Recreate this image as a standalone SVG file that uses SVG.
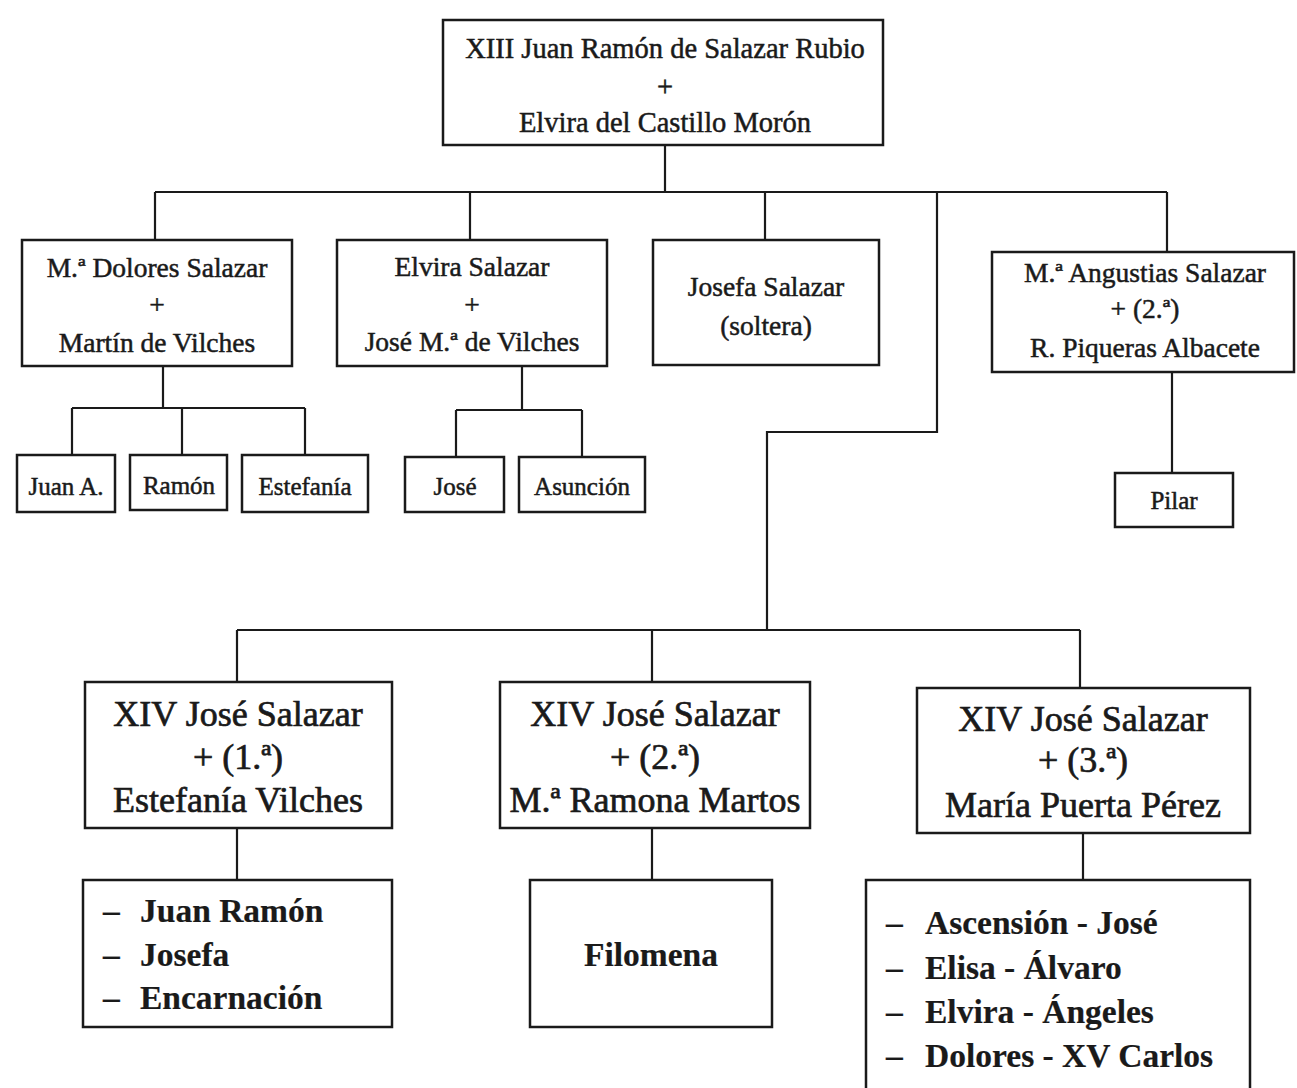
<svg xmlns="http://www.w3.org/2000/svg" width="1297" height="1088" viewBox="0 0 1297 1088">
<style>
.box{fill:#fff;stroke:#1a1a1a;stroke-width:2.5}
.ln{fill:none;stroke:#1a1a1a;stroke-width:2.2}
text{font-family:"Liberation Serif","Times New Roman",serif;fill:#1a1a1a;stroke:#1a1a1a;stroke-width:0.5}
.t1{font-size:28.5px;text-anchor:middle}
.t2{font-size:27.5px;text-anchor:middle}
.t3{font-size:25px;text-anchor:middle}
.t4{font-size:36px;text-anchor:middle;stroke-width:0.7}
.t5{font-size:33.5px;font-weight:bold;stroke-width:0.2}
.c{text-anchor:middle}
</style>
<rect width="1297" height="1088" fill="#fff"/>
<g id="connectors">
<path class="ln" d="M665 145V192M155 192H1167M155 192V240M470 192V240M765 192V240M937 192V432H767V630M1167 192V252"/>
<path class="ln" d="M163 366V408M72 408H305M72 408V455M182 408V455M305 408V455"/>
<path class="ln" d="M522 366V410M456 410H582M456 410V457M582 410V457"/>
<path class="ln" d="M1172 372V473"/>
<path class="ln" d="M237 630H1080M237 630V682M652 630V682M1080 630V688"/>
<path class="ln" d="M237 828V880M652 828V880M1083 833V880"/>
</g>
<g id="n-top">
<rect class="box" x="443" y="20" width="440" height="125"/>
<text class="t1" x="665" y="58">XIII Juan Ramón de Salazar Rubio</text>
<text class="t1" x="665" y="96">+</text>
<text class="t1" x="665" y="132">Elvira del Castillo Morón</text>
</g>
<g id="n-dolores">
<rect class="box" x="22" y="240" width="270" height="126"/>
<text class="t2" x="157" y="277">M.ª Dolores Salazar</text>
<text class="t2" x="157" y="314">+</text>
<text class="t2" x="157" y="352">Martín de Vilches</text>
</g>
<g id="n-elvira">
<rect class="box" x="337" y="240" width="270" height="126"/>
<text class="t2" x="472" y="276">Elvira Salazar</text>
<text class="t2" x="472" y="314">+</text>
<text class="t2" x="472" y="351">José M.ª de Vilches</text>
</g>
<g id="n-josefa">
<rect class="box" x="653" y="240" width="226" height="125"/>
<text class="t2" x="766" y="296">Josefa Salazar</text>
<text class="t2" x="766" y="335">(soltera)</text>
</g>
<g id="n-angustias">
<rect class="box" x="992" y="252" width="302" height="120"/>
<text class="t2" x="1145" y="282">M.ª Angustias Salazar</text>
<text class="t2" x="1145" y="318">+ (2.ª)</text>
<text class="t2" x="1145" y="357">R. Piqueras Albacete</text>
</g>
<g id="n-juana">
<rect class="box" x="17" y="455" width="98" height="57"/>
<text class="t3" x="66" y="495">Juan A.</text>
</g>
<g id="n-ramon">
<rect class="box" x="130" y="455" width="97" height="55"/>
<text class="t3" x="179" y="494">Ramón</text>
</g>
<g id="n-estefania">
<rect class="box" x="242" y="455" width="126" height="57"/>
<text class="t3" x="305" y="495">Estefanía</text>
</g>
<g id="n-jose">
<rect class="box" x="405" y="457" width="99" height="55"/>
<text class="t3" x="455" y="495">José</text>
</g>
<g id="n-asuncion">
<rect class="box" x="519" y="457" width="126" height="55"/>
<text class="t3" x="582" y="495">Asunción</text>
</g>
<g id="n-pilar">
<rect class="box" x="1115" y="473" width="118" height="54"/>
<text class="t3" x="1174" y="509">Pilar</text>
</g>
<g id="n-jose1">
<rect class="box" x="85" y="682" width="307" height="146"/>
<text class="t4" x="238" y="726">XIV José Salazar</text>
<text class="t4" x="238" y="769">+ (1.ª)</text>
<text class="t4" x="238" y="812">Estefanía Vilches</text>
</g>
<g id="n-jose2">
<rect class="box" x="500" y="682" width="310" height="146"/>
<text class="t4" x="655" y="726">XIV José Salazar</text>
<text class="t4" x="655" y="769">+ (2.ª)</text>
<text class="t4" x="655" y="812">M.ª Ramona Martos</text>
</g>
<g id="n-jose3">
<rect class="box" x="917" y="688" width="333" height="145"/>
<text class="t4" x="1083" y="731">XIV José Salazar</text>
<text class="t4" x="1083" y="772">+ (3.ª)</text>
<text class="t4" x="1083" y="817">María Puerta Pérez</text>
</g>
<g id="n-hijos1">
<rect class="box" x="83" y="880" width="309" height="147"/>
<text class="t5" x="103" y="922">–<tspan x="140">Juan Ramón</tspan></text>
<text class="t5" x="103" y="966">–<tspan x="140">Josefa</tspan></text>
<text class="t5" x="103" y="1009">–<tspan x="140">Encarnación</tspan></text>
</g>
<g id="n-hijos2">
<rect class="box" x="530" y="880" width="242" height="147"/>
<text class="t5 c" x="651" y="966">Filomena</text>
</g>
<g id="n-hijos3">
<rect class="box" x="866" y="880" width="384" height="220"/>
<text class="t5" x="886" y="934">–<tspan x="925">Ascensión - José</tspan></text>
<text class="t5" x="886" y="979">–<tspan x="925">Elisa - Álvaro</tspan></text>
<text class="t5" x="886" y="1023">–<tspan x="925">Elvira - Ángeles</tspan></text>
<text class="t5" x="886" y="1067">–<tspan x="925">Dolores - XV Carlos</tspan></text>
</g>
</svg>
